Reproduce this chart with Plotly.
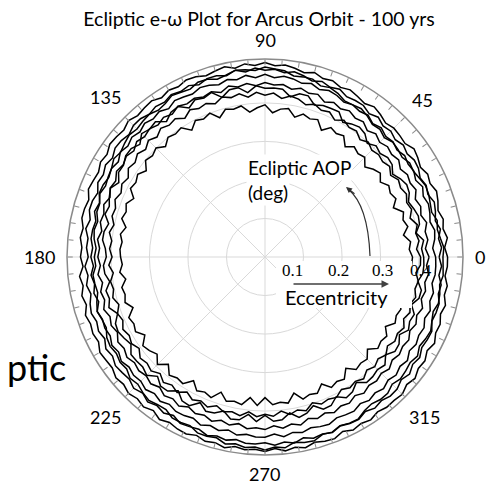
import math
import plotly.graph_objects as go

# ---------------- data (eccentricity in thousandths, AOP in degrees) ----------------
AOP_DEG = list(range(0, 363, 3))

ECC_1 = [474,467,476,468,473,465,472,477,469,474,466,473,478,468,471,
         473,468,476,482,475,481,487,482,490,487,496,489,496,501,497,
         505,498,504,496,505,500,495,501,503,496,500,493,501,498,494,
         501,493,496,498,489,493,485,488,491,481,485,486,478,482,476,
         479,473,484,478,486,480,490,485,489,485,495,492,490,498,494,
         501,495,501,493,503,496,501,503,496,503,499,506,498,503,500,
         505,498,506,500,506,498,503,505,496,504,499,504,497,502,501,
         504,495,501,492,495,486,494,485,487,479,485,476,479,470,474,
         474]
ECC_2 = [452,459,453,461,452,458,462,453,458,452,460,462,456,462,455,
         462,458,467,460,469,469,467,477,472,479,473,481,487,481,488,
         485,491,483,491,481,487,487,479,487,482,487,479,483,477,483,
         483,475,480,481,472,478,471,475,465,471,472,464,471,462,464,
         459,468,462,469,462,470,474,468,473,467,477,472,480,477,474,
         482,475,484,477,483,475,485,482,479,487,481,486,480,486,486,
         482,489,483,489,480,487,483,488,480,485,487,478,485,480,486,
         485,476,483,474,479,470,473,474,464,467,468,460,463,454,459,
         452]
ECC_3 = [443,436,443,446,438,443,446,440,448,439,446,443,448,441,447,
         443,451,445,455,451,456,451,459,463,457,466,461,468,472,466,
         474,466,474,466,471,463,469,471,463,466,469,459,467,461,467,
         459,465,458,464,454,460,457,453,459,452,458,449,453,454,448,
         452,446,454,448,454,447,458,452,455,451,459,453,461,454,459,
         456,463,456,463,456,463,462,458,467,460,466,459,468,463,468,
         468,460,469,461,466,459,463,465,457,460,462,454,460,454,460,
         452,458,451,457,447,453,448,452,444,451,443,447,439,444,444,
         443]
ECC_4 = [426,417,425,421,429,419,425,418,429,423,427,419,429,423,428,
         421,430,422,434,430,438,432,439,431,444,440,448,441,450,447,
         453,445,453,447,454,442,451,445,451,446,452,442,448,441,448,
         442,448,438,445,439,445,435,440,431,440,433,437,429,437,430,
         434,428,436,427,436,431,440,431,437,430,441,436,443,436,441,
         436,443,435,445,439,447,437,445,440,448,439,446,438,448,444,
         448,439,447,439,446,434,441,434,442,434,438,429,437,429,433,
         427,434,425,431,426,431,422,429,422,430,420,426,420,427,420,
         426]
ECC_5 = [404,394,402,396,404,390,400,394,402,395,400,389,400,393,397,
         392,401,392,404,401,410,399,412,408,417,409,419,423,414,426,
         420,428,417,429,423,430,418,427,422,429,416,428,423,430,419,
         428,417,426,417,423,410,417,409,417,408,411,401,409,400,404,
         397,406,396,406,402,409,399,410,404,414,407,413,404,417,412,
         418,407,419,411,419,405,416,409,417,406,416,411,417,404,415,
         408,414,402,414,406,413,398,409,404,409,397,405,399,407,395,
         403,395,404,393,402,397,405,394,403,396,405,398,403,394,404,
         404]
ECC_6 = [383,375,380,364,379,371,378,357,372,365,371,357,370,362,349,
         366,361,368,354,375,370,377,360,382,377,384,371,390,386,375,
         395,388,378,397,392,397,380,400,392,398,380,400,395,400,386,
         400,393,399,381,394,387,392,373,386,379,385,369,380,373,377,
         375,371,379,366,380,376,382,367,387,382,388,372,392,386,377,
         395,375,395,388,392,371,390,384,391,369,388,383,388,367,386,
         365,384,379,384,361,382,375,379,361,380,373,378,357,376,371,
         375,358,377,372,377,361,379,373,378,365,381,376,381,366,381,
         383]
ECC_7 = [462,465,458,453,457,448,451,455,456,450,445,448,440,444,446,
         438,446,443,452,459,456,455,465,471,467,478,478,476,486,489,
         493,485,489,491,483,478,485,486,477,480,484,475,471,477,474,
         470,474,469,463,468,460,455,460,461,451,452,444,449,446,439,
         443,440,449,447,444,452,458,453,451,461,464,460,465,462,471,
         467,474,479,474,472,482,482,479,489,489,486,496,491,497,494,
         501,494,498,487,492,494,484,487,479,484,485,475,471,476,476,
         467,473,470,466,472,463,468,471,464,459,466,464,459,465,463,
         462]
ECC_8 = [412,407,414,397,410,412,406,399,410,413,406,395,408,410,402,
         408,397,412,417,412,404,423,422,421,415,433,433,421,438,439,
         438,445,429,445,444,429,449,442,447,434,451,448,435,452,447,
         453,437,447,447,438,439,426,439,433,425,430,415,423,424,415,
         412,420,418,408,422,418,426,410,425,428,422,415,430,429,427,
         434,417,431,430,414,431,433,414,429,426,414,430,428,411,428,
         411,427,425,410,426,420,406,423,422,407,422,417,403,419,418,
         413,419,403,417,415,403,418,411,415,400,414,415,402,412,413,
         412]

CURVES = [ECC_1, ECC_2, ECC_7, ECC_3, ECC_4, ECC_8, ECC_5, ECC_6]

RADIAL_TICKS = [0.1, 0.2, 0.3, 0.4]
RADIAL_LABELS = ["0.1", "0.2", "0.3", "0.4"]
R_MAX = 0.514
GRID_ANGLES = [0, 45, 90, 135, 180, 225, 270, 315]
ANGLE_LABELS = ["0", "45", "90", "135", "180", "225", "270", "315"]
ANG_TICKS = list(range(0, 360, 5))

TITLE = "Ecliptic e-\u03c9 Plot for Arcus Orbit - 100 yrs"

# ---------------- layout helpers (page pixel -> paper) ----------------
OFF = 8                       # page body margin
W, H = 487, 478
ML, MR, MT, MB = 59, 32, 51, 31
PW, PH = W - ML - MR, H - MT - MB
CX, CY, RPX = 265, 257, 198   # polar centre / radius in page pixels


def px(x):
    return (x - OFF - ML) / PW


def py(y):
    return (H - MB - (y - OFF)) / PH


GRID_COLOR = "#d9d9d9"
FONT = "Lato"

fig = go.Figure()

for a in GRID_ANGLES:
    fig.add_trace(go.Scatterpolar(r=[0, R_MAX], theta=[a, a], mode="lines",
                                  line=dict(color=GRID_COLOR, width=1),
                                  hoverinfo="skip", showlegend=False))

for c in CURVES:
    fig.add_trace(go.Scatterpolar(r=[v / 1000 for v in c], theta=AOP_DEG,
                                  mode="lines",
                                  line=dict(color="black", width=1.5),
                                  showlegend=False))

fig.update_layout(
    width=W, height=H,
    margin=dict(l=ML, r=MR, t=MT, b=MB),
    paper_bgcolor="white",
    title=dict(text=TITLE, x=px(259), xref="paper", xanchor="center",
               y=1 - (19 - OFF) / H, yref="container", yanchor="middle",
               font=dict(family=FONT, size=19.5, color="black")),
    polar=dict(
        bgcolor="white",
        domain=dict(x=[0, 1], y=[0, 1]),
        radialaxis=dict(range=[0, R_MAX], tickvals=RADIAL_TICKS,
                        showticklabels=False, ticks="", showline=False,
                        gridcolor=GRID_COLOR, gridwidth=1, angle=0),
        angularaxis=dict(rotation=0, direction="counterclockwise",
                         tickmode="array", tickvals=ANG_TICKS,
                         showticklabels=False,
                         ticks="inside", ticklen=5, tickcolor="#8a8a8a",
                         showgrid=False, showline=True, linecolor="#8a8a8a",
                         linewidth=1.5),
    ),
)

# angular labels (centred, pushed out by half their extent)
for a, lab in zip(GRID_ANGLES, ANGLE_LABELS):
    c, s = math.cos(math.radians(a)), math.sin(math.radians(a))
    d = RPX + 12 + 5.2 * len(lab) * abs(c) + 7 * abs(s)
    fig.add_annotation(text=lab, x=px(CX + d * c), y=py(CY - d * s),
                       xref="paper", yref="paper",
                       showarrow=False, xanchor="center", yanchor="middle",
                       font=dict(family=FONT, size=18, color="black"))

# white box behind eccentricity labels
fig.add_shape(type="rect", xref="paper", yref="paper",
              x0=px(276), x1=px(412), y0=py(308), y1=py(261),
              fillcolor="white", line=dict(width=0), layer="above")

# radial tick labels
for t, lab, xp in zip(RADIAL_TICKS, RADIAL_LABELS, [292, 338, 382, 421]):
    fig.add_annotation(text=lab, x=px(xp), y=py(270), xref="paper", yref="paper",
                       showarrow=False, xanchor="center", yanchor="middle",
                       font=dict(family="Liberation Serif", size=17, color="black"))

# eccentricity arrow + label
fig.add_annotation(text="", x=px(389), y=py(284), xref="paper", yref="paper",
                   ax=-97, ay=0, showarrow=True, arrowhead=2, arrowsize=1,
                   arrowwidth=1.5, arrowcolor="#404040", standoff=0)
fig.add_annotation(text="Eccentricity", x=px(283), y=py(297), xref="paper", yref="paper",
                   showarrow=False, xanchor="left", yanchor="middle",
                   font=dict(family=FONT, size=20, color="black"))

# AOP label + curved arrow
fig.add_annotation(text="Ecliptic AOP", x=px(246), y=py(167), xref="paper", yref="paper",
                   showarrow=False, xanchor="left", yanchor="middle", bgcolor="white",
                   font=dict(family=FONT, size=19, color="black"))
fig.add_annotation(text="(deg)", x=px(246), y=py(193), xref="paper", yref="paper",
                   showarrow=False, xanchor="left", yanchor="middle", bgcolor="white",
                   font=dict(family=FONT, size=19, color="black"))
fig.add_shape(type="path", xref="paper", yref="paper",
              path=f"M {px(370)},{py(256)} Q {px(368)},{py(205)} {px(348)},{py(189)}",
              line=dict(color="#303030", width=1.2), layer="above")
fig.add_annotation(text="", x=px(346), y=py(187), xref="paper", yref="paper",
                   ax=10, ay=8, showarrow=True, arrowhead=2, arrowsize=1,
                   arrowwidth=1.2, arrowcolor="#303030", standoff=0)

# slide text fragment at left
fig.add_annotation(text="ptic", x=px(68), y=py(367), xref="paper", yref="paper",
                   showarrow=False, xanchor="right", yanchor="middle",
                   font=dict(family=FONT, size=36, color="black"))

fig.write_html("out.html")
